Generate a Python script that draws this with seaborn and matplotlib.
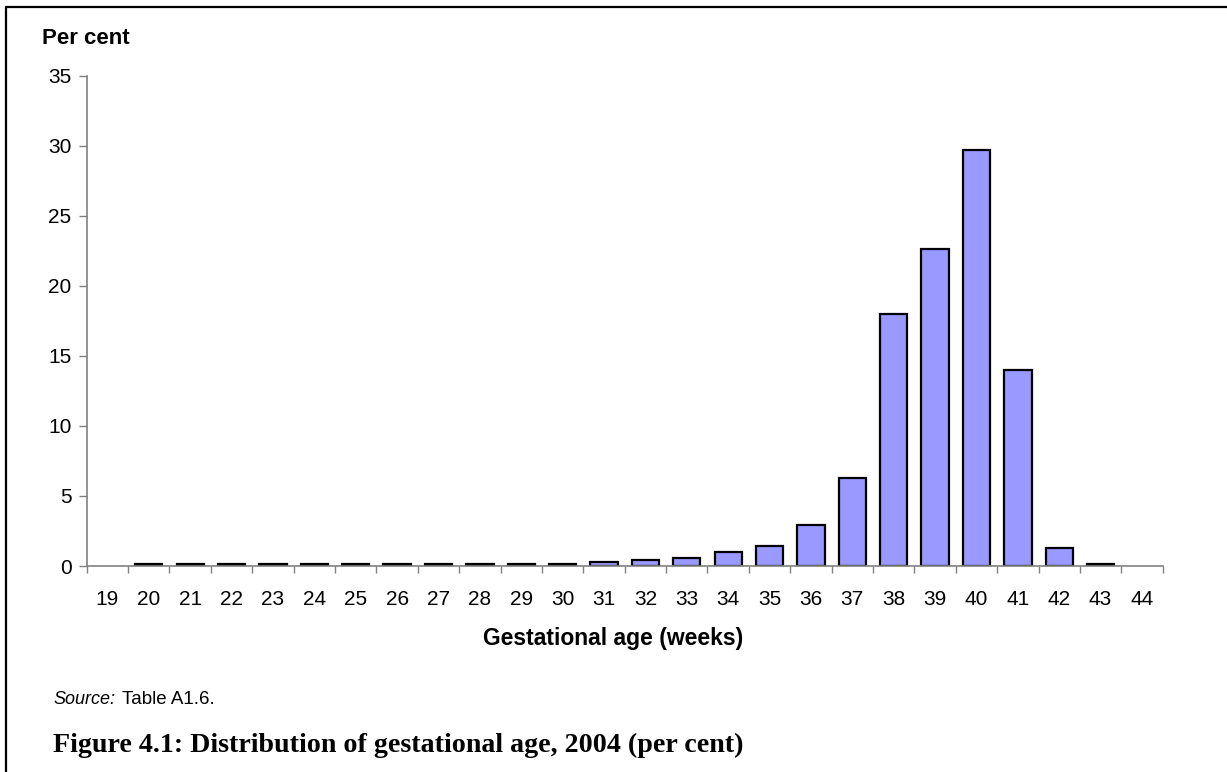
import numpy as np
import pandas as pd
import seaborn as sns
import matplotlib
matplotlib.use('Agg')
import matplotlib.pyplot as plt
from matplotlib.lines import Line2D

# gestational age (weeks) and per cent of births, 2004
weeks = [str(w) for w in range(19, 45)]
per_cent = [0.0, 0.15, 0.15, 0.15, 0.15, 0.15, 0.15, 0.15, 0.15, 0.15, 0.15, 0.15,
            0.3, 0.45, 0.6, 1.0, 1.45, 2.9, 6.3, 18.0, 22.6, 29.7, 14.0, 1.3,
            0.15, 0.0]
y_ticks = [0, 5, 10, 15, 20, 25, 30, 35]

df = pd.DataFrame({'week': weeks, 'pct': per_cent})

sns.set_style('white')
plt.rcParams['font.family'] = ['Liberation Sans', 'DejaVu Sans']
plt.rcParams['text.color'] = 'black'
plt.rcParams['xtick.color'] = 'black'
plt.rcParams['ytick.color'] = 'black'

W, H = 1227, 772
fig = plt.figure(figsize=(W / 100, H / 100), dpi=100)
ax = fig.add_axes([86.7 / W, 1 - 566 / H, (1162.7 - 86.7) / W, (566 - 75.7) / H])

sns.barplot(data=df, x='week', y='pct', color='#9999FF', saturation=1,
            edgecolor='black', linewidth=1.6, width=0.66, ax=ax)
# empty weeks get no outline
for p in ax.patches:
    if p.get_height() == 0:
        p.set_visible(False)

ax.set_xlim(-0.5, len(weeks) - 0.5)
ax.set_ylim(0, 35)
ax.set_yticks(y_ticks)
ax.set_yticklabels([str(t) for t in y_ticks], fontsize=15)
ax.set_xticks(range(len(weeks)))
ax.set_xticklabels(weeks, fontsize=15)
ax.set_xticks(np.arange(-0.5, len(weeks), 1.0), minor=True)
ax.tick_params(axis='x', which='major', bottom=True, length=0, pad=17, labelcolor='black')
ax.tick_params(axis='x', which='minor', bottom=True, length=5, width=1, color='#808080', direction='out')
ax.tick_params(axis='y', left=True, length=6, width=1, color='#808080', direction='out', pad=5,
               labelcolor='black')
ax.set_xlabel('')
ax.set_ylabel('')

for s in ['top', 'right']:
    ax.spines[s].set_visible(False)
for s in ['left', 'bottom']:
    ax.spines[s].set_color('#808080')
    ax.spines[s].set_linewidth(1.2)

fig.text(42 / W, 1 - 39 / H, 'Per cent', fontsize=16, fontweight='bold', va='center', ha='left')
fig.text(613 / W, 1 - 638 / H, 'Gestational age (weeks)', fontsize=16.5, fontweight='bold',
         va='center', ha='center')
fig.text(53 / W, 1 - 700 / H, 'Source:', fontsize=13, fontstyle='italic', va='center', ha='left')
fig.text(122 / W, 1 - 700 / H, 'Table A1.6.', fontsize=13.5, va='center', ha='left')
fig.text(53 / W, 1 - 745 / H, 'Figure 4.1: Distribution of gestational age, 2004 (per cent)',
         fontsize=20.2, fontweight='bold', family=['Liberation Serif'], va='center', ha='left')

# frame: only top and left edges
fig.add_artist(Line2D([6 / W, 1], [1 - 6.5 / H, 1 - 6.5 / H], transform=fig.transFigure,
                      color='black', linewidth=1.6))
fig.add_artist(Line2D([6 / W, 6 / W], [0, 1 - 6.5 / H], transform=fig.transFigure,
                      color='black', linewidth=1.6))

plt.savefig('out.png', dpi=100)
